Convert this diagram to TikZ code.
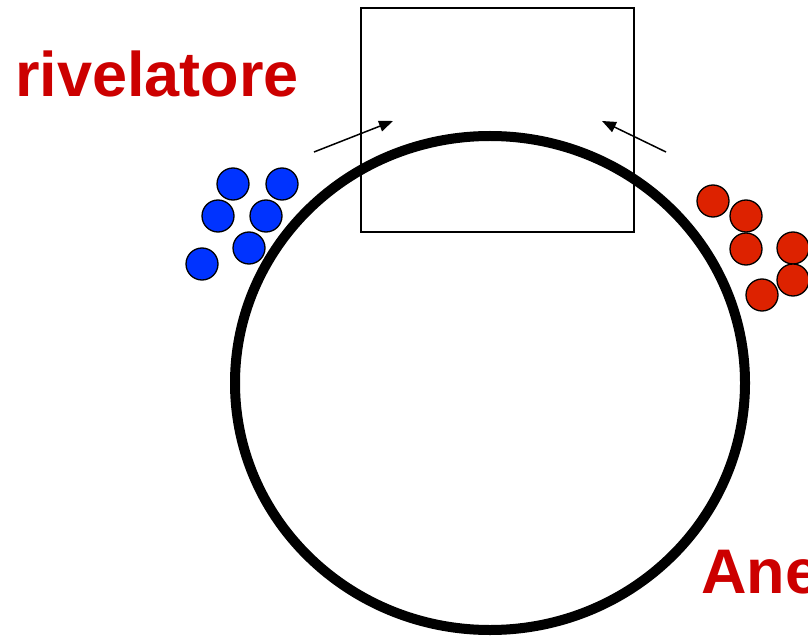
\documentclass[tikz,border=0pt]{standalone}
\usepackage{fontspec}
\setmainfont{Liberation Sans}
\usetikzlibrary{arrows.meta,shapes.geometric}
\definecolor{beamblue}{RGB}{0,51,255}
\definecolor{beamred}{RGB}{221,34,0}
\definecolor{labelred}{RGB}{204,0,0}
\begin{document}
\begin{tikzpicture}[x=1pt,y=-1pt,
  bunchb/.style={circle,draw=black,line width=1.3pt,fill=beamblue,minimum size=32pt,inner sep=0pt},
  bunchr/.style={circle,draw=black,line width=1.3pt,fill=beamred,minimum size=32pt,inner sep=0pt},
  label/.style={font=\bfseries\fontsize{63}{63}\selectfont,text=labelred,inner sep=0pt,anchor=base west},
  beam/.style={line width=1.5pt,-{Triangle[length=14pt,width=11pt]}}]
\useasboundingbox (0,0) rectangle (808,636);
\clip (0,0) rectangle (808,636);

% positron bunches (left)
\node[bunchb] (b1) at (233,184) {};
\node[bunchb] (b2) at (282,184) {};
\node[bunchb] (b3) at (218,216) {};
\node[bunchb] (b4) at (266,216) {};
\node[bunchb] (b5) at (249,248) {};
\node[bunchb] (b6) at (202,264) {};

% electron bunches (right)
\node[bunchr] (r1) at (713,201) {};
\node[bunchr] (r2) at (746,216) {};
\node[bunchr] (r3) at (746,249) {};
\node[bunchr] (r4) at (793,248) {};
\node[bunchr] (r5) at (793,280) {};
\node[bunchr] (r6) at (762,295) {};

% storage ring
\node[ellipse,draw=black,line width=10pt,minimum width=510pt,minimum height=494pt,inner sep=0pt] (ring) at (490,383) {};

% detector
\node[draw=black,line width=1.3pt,minimum width=273pt,minimum height=224pt,inner sep=0pt] (det) at (497.5,120) {};

% beam directions
\coordinate (la) at (314,152);
\coordinate (lb) at (393,121);
\coordinate (ra) at (666,152);
\coordinate (rb) at (602,121);
\draw[beam] (la) -- (lb);
\draw[beam] (ra) -- (rb);

% labels
\node[label] (riv) at (15,97) {rivelatore};
\node[label] (ane) at (701,593) {Ane};
\end{tikzpicture}
\end{document}
